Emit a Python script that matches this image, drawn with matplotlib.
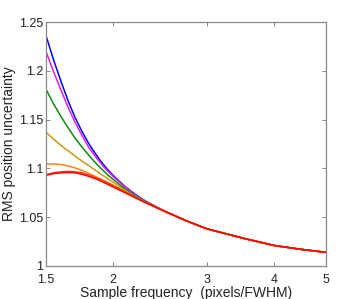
import matplotlib.pyplot as plt
from matplotlib.ticker import FixedLocator, FixedFormatter, NullLocator

plt.rcParams["font.family"] = ["Liberation Sans", "DejaVu Sans"]

# sample frequency (pixels/FWHM)
freq = [1.5, 1.55, 1.6, 1.65, 1.7, 1.75, 1.8, 1.85, 1.9, 1.95, 2.0,
        2.1, 2.2, 2.3, 2.5, 2.75, 3.0, 3.5, 4.0, 4.5, 5.0]

# per-curve values from 1.5 to 2.3; all curves share the tail after that
blue = [1.236, 1.211, 1.189, 1.169, 1.152, 1.138, 1.126, 1.116, 1.107, 1.0995, 1.093,
        1.082, 1.0735, 1.0665]
magenta = [1.2195, 1.199, 1.180, 1.1625, 1.147, 1.134, 1.122, 1.113, 1.105, 1.098, 1.092,
           1.0815, 1.073, 1.0665]
green = [1.181, 1.166, 1.153, 1.1415, 1.131, 1.122, 1.114, 1.1065, 1.100, 1.094, 1.089,
         1.0795, 1.072, 1.066]
olive = [1.137, 1.130, 1.1235, 1.118, 1.1125, 1.1075, 1.103, 1.0985, 1.094, 1.090, 1.086,
         1.078, 1.071, 1.0655]
orange = [1.1045, 1.1045, 1.104, 1.1025, 1.1005, 1.098, 1.095, 1.092, 1.089, 1.086, 1.083,
          1.0765, 1.0705, 1.065]
orangered = [1.0935, 1.0955, 1.0965, 1.097, 1.0965, 1.0955, 1.0935, 1.091, 1.0885, 1.0855, 1.0825,
             1.0765, 1.0705, 1.065]
red = [1.093, 1.0947, 1.0955, 1.0958, 1.0955, 1.094, 1.092, 1.0897, 1.087, 1.084, 1.081,
       1.0755, 1.070, 1.065]
tail = [1.056, 1.046, 1.038, 1.0285, 1.021, 1.017, 1.014]

series = [
    (blue, "#0000ff"),
    (magenta, "#e020e0"),
    (green, "#118811"),
    (olive, "#cc9911"),
    (orange, "#ff8020"),
    (orangered, "#ff4010"),
    (red, "#ff0000"),
]

x_ticks = [1.5, 2, 3, 4, 5]
x_labels = ["1.5", "2", "3", "4", "5"]
y_ticks = [1.0, 1.05, 1.1, 1.15, 1.2, 1.25]
y_labels = ["1", "1.05", "1.1", "1.15", "1.2", "1.25"]

fig = plt.figure(figsize=(3.6, 2.99), dpi=100)
ax = fig.add_axes([0.1278, 0.1104, 0.7778, 0.816])

for vals, col in series:
    ax.plot(freq, vals + tail, color=col, lw=1.1)

ax.set_xscale("log")
ax.set_xlim(1.5, 5)
ax.set_ylim(1.0, 1.25)
ax.xaxis.set_major_locator(FixedLocator(x_ticks))
ax.xaxis.set_major_formatter(FixedFormatter(x_labels))
ax.xaxis.set_minor_locator(NullLocator())
ax.set_yticks(y_ticks)
ax.set_yticklabels(y_labels)

for s in ax.spines.values():
    s.set_color("#888888")
    s.set_linewidth(0.9)
ax.tick_params(direction="in", length=3, width=0.7, color="#888888",
               top=True, right=True, labelsize=9, labelcolor="#222222", pad=2)
ax.tick_params(axis="x", pad=6)

ax.set_xlabel("Sample frequency  (pixels/FWHM)", fontsize=10, color="#222222", labelpad=0)
ax.set_ylabel("RMS position uncertainty", fontsize=10, color="#222222", labelpad=2)

fig.savefig("out.png", dpi=100)
plt.close(fig)
